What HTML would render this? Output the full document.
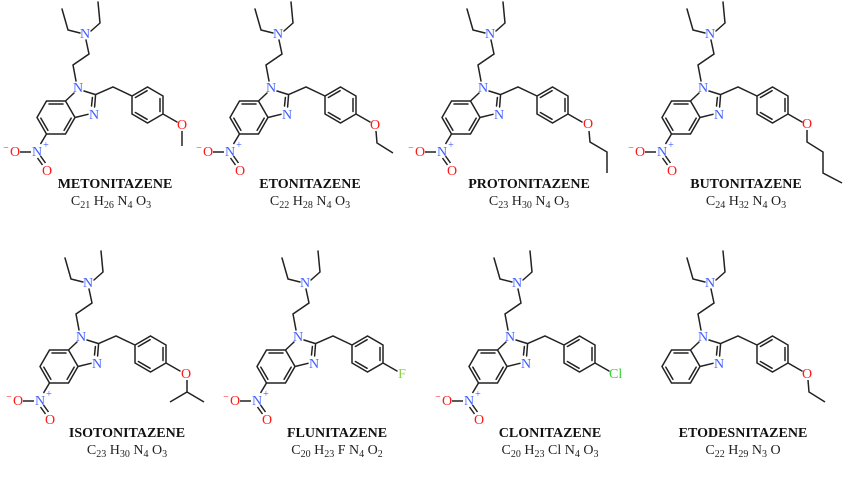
<!DOCTYPE html>
<html><head><meta charset="utf-8"><style>
html,body{margin:0;padding:0;background:#fff;}
svg{display:block;}
text{font-family:"Liberation Serif",serif;}
.n{fill:#3f5fff;font-size:14px;text-anchor:middle;}
.o{fill:#ff1a1a;font-size:14px;text-anchor:middle;}
.c{font-size:10px;}
.nm{font-size:14px;font-weight:bold;text-anchor:middle;fill:#111;}
.fm{font-size:14px;text-anchor:middle;fill:#222;}
</style></head><body>
<svg width="850" height="484" viewBox="0 0 850 484" xmlns="http://www.w3.org/2000/svg">
<defs>
<g id="core" stroke="#222" stroke-width="1.5" fill="none" stroke-linecap="round">
<path d="M62,9 L68,30 L80,33 M91,31 L100,23 L98,2 M86,40 L89,54 L73,65 L76,81 M74,93 L65.5,101 M84,91 L95.6,94.6 M95.6,94.6 L94.6,107 M92.4,97.5 L91.5,106 M88,114.3 L75,117.5 M65.5,101 L75,117.5 M65.5,101 L46.5,101 L37,117.5 L46.5,134 L65.5,134 L75,117.5 M49,104 L63,104 M47.85,130.3 L40.85,118.2 M71.15,118.2 L64.15,130.3 M95.6,94.6 L113,87 L132,96 M132,96 L147.5,87 L163,96 L163,114 L147.5,123 L132,114 Z M135.4,97.5 L147.1,90.7 M160,98.5 L160,111.5 M147.1,119.3 L135.4,112.5 M163,114 L177,122"/>
</g>
<g id="nitro" stroke="#222" stroke-width="1.5" fill="none">
<path d="M46.5,134 L40.5,144 M20,152 L31,152 M37.5,158 L42.5,165 M40.5,156 L45.5,163"/>
</g>
</defs>

<g transform="translate(0,0)">
<use href="#core"/><use href="#nitro"/>
<path d="M182,131 L182,146" stroke="#222" stroke-width="1.5" fill="none"/>
<text class="n" x="85" y="38">N</text><text class="n" x="78" y="92">N</text><text class="n" x="94" y="119">N</text>
<text class="n" x="37" y="156">N</text><text class="n c" x="46" y="148">+</text>
<text class="o" x="15" y="156">O</text><text class="o c" x="6" y="151">−</text><text class="o" x="47" y="175">O</text>
<text class="o" x="182" y="129">O</text>
</g>
<text class="nm" x="115" y="188">METONITAZENE</text>
<text class="fm" x="111" y="205">C<tspan font-size="10" dy="3">21</tspan><tspan dy="-3"> H</tspan><tspan font-size="10" dy="3">26</tspan><tspan dy="-3"> N</tspan><tspan font-size="10" dy="3">4</tspan><tspan dy="-3"> O</tspan><tspan font-size="10" dy="3">3</tspan></text>

<g transform="translate(193,0)">
<use href="#core"/><use href="#nitro"/>
<path d="M183,131 L184,143 L200,153" stroke="#222" stroke-width="1.5" fill="none"/>
<text class="n" x="85" y="38">N</text><text class="n" x="78" y="92">N</text><text class="n" x="94" y="119">N</text>
<text class="n" x="37" y="156">N</text><text class="n c" x="46" y="148">+</text>
<text class="o" x="15" y="156">O</text><text class="o c" x="6" y="151">−</text><text class="o" x="47" y="175">O</text>
<text class="o" x="182" y="129">O</text>
</g>
<text class="nm" x="310" y="188">ETONITAZENE</text>
<text class="fm" x="310" y="205">C<tspan font-size="10" dy="3">22</tspan><tspan dy="-3"> H</tspan><tspan font-size="10" dy="3">28</tspan><tspan dy="-3"> N</tspan><tspan font-size="10" dy="3">4</tspan><tspan dy="-3"> O</tspan><tspan font-size="10" dy="3">3</tspan></text>

<g transform="translate(405,0)">
<use href="#core"/><use href="#nitro"/>
<path d="M184,131 L185,142 L202,152 L202,173" stroke="#222" stroke-width="1.5" fill="none"/>
<text class="n" x="85" y="38">N</text><text class="n" x="78" y="92">N</text><text class="n" x="94" y="119">N</text>
<text class="n" x="37" y="156">N</text><text class="n c" x="46" y="148">+</text>
<text class="o" x="15" y="156">O</text><text class="o c" x="6" y="151">−</text><text class="o" x="47" y="175">O</text>
<text class="o" x="183" y="128">O</text>
</g>
<text class="nm" x="529" y="188">PROTONITAZENE</text>
<text class="fm" x="529" y="205">C<tspan font-size="10" dy="3">23</tspan><tspan dy="-3"> H</tspan><tspan font-size="10" dy="3">30</tspan><tspan dy="-3"> N</tspan><tspan font-size="10" dy="3">4</tspan><tspan dy="-3"> O</tspan><tspan font-size="10" dy="3">3</tspan></text>

<g transform="translate(625,0)">
<use href="#core"/><use href="#nitro"/>
<path d="M182,130 L182,142 L198,152 L198,173 L217,183" stroke="#222" stroke-width="1.5" fill="none"/>
<text class="n" x="85" y="38">N</text><text class="n" x="78" y="92">N</text><text class="n" x="94" y="119">N</text>
<text class="n" x="37" y="156">N</text><text class="n c" x="46" y="148">+</text>
<text class="o" x="15" y="156">O</text><text class="o c" x="6" y="151">−</text><text class="o" x="47" y="175">O</text>
<text class="o" x="182" y="128">O</text>
</g>
<text class="nm" x="746" y="188">BUTONITAZENE</text>
<text class="fm" x="746" y="205">C<tspan font-size="10" dy="3">24</tspan><tspan dy="-3"> H</tspan><tspan font-size="10" dy="3">32</tspan><tspan dy="-3"> N</tspan><tspan font-size="10" dy="3">4</tspan><tspan dy="-3"> O</tspan><tspan font-size="10" dy="3">3</tspan></text>

<g transform="translate(3,249)">
<use href="#core"/><use href="#nitro"/>
<path d="M184,131 L184,143 M167,153 L184,143 L201,153" stroke="#222" stroke-width="1.5" fill="none"/>
<text class="n" x="85" y="38">N</text><text class="n" x="78" y="92">N</text><text class="n" x="94" y="119">N</text>
<text class="n" x="37" y="156">N</text><text class="n c" x="46" y="148">+</text>
<text class="o" x="15" y="156">O</text><text class="o c" x="6" y="151">−</text><text class="o" x="47" y="175">O</text>
<text class="o" x="183" y="129">O</text>
</g>
<text class="nm" x="127" y="437">ISOTONITAZENE</text>
<text class="fm" x="127" y="454">C<tspan font-size="10" dy="3">23</tspan><tspan dy="-3"> H</tspan><tspan font-size="10" dy="3">30</tspan><tspan dy="-3"> N</tspan><tspan font-size="10" dy="3">4</tspan><tspan dy="-3"> O</tspan><tspan font-size="10" dy="3">3</tspan></text>

<g transform="translate(220,249)">
<use href="#core"/><use href="#nitro"/>
<text class="n" x="85" y="38">N</text><text class="n" x="78" y="92">N</text><text class="n" x="94" y="119">N</text>
<text class="n" x="37" y="156">N</text><text class="n c" x="46" y="148">+</text>
<text class="o" x="15" y="156">O</text><text class="o c" x="6" y="151">−</text><text class="o" x="47" y="175">O</text>
<text x="182" y="129" font-size="14" text-anchor="middle" fill="#8fd14f">F</text>
</g>
<text class="nm" x="337" y="437">FLUNITAZENE</text>
<text class="fm" x="337" y="454">C<tspan font-size="10" dy="3">20</tspan><tspan dy="-3"> H</tspan><tspan font-size="10" dy="3">23</tspan><tspan dy="-3"> F N</tspan><tspan font-size="10" dy="3">4</tspan><tspan dy="-3"> O</tspan><tspan font-size="10" dy="3">2</tspan></text>

<g transform="translate(432,249)">
<use href="#core"/><use href="#nitro"/>
<text class="n" x="85" y="38">N</text><text class="n" x="78" y="92">N</text><text class="n" x="94" y="119">N</text>
<text class="n" x="37" y="156">N</text><text class="n c" x="46" y="148">+</text>
<text class="o" x="15" y="156">O</text><text class="o c" x="6" y="151">−</text><text class="o" x="47" y="175">O</text>
<text x="177" y="129" font-size="14" fill="#2fd42f">Cl</text>
</g>
<text class="nm" x="550" y="437">CLONITAZENE</text>
<text class="fm" x="550" y="454">C<tspan font-size="10" dy="3">20</tspan><tspan dy="-3"> H</tspan><tspan font-size="10" dy="3">23</tspan><tspan dy="-3"> Cl N</tspan><tspan font-size="10" dy="3">4</tspan><tspan dy="-3"> O</tspan><tspan font-size="10" dy="3">3</tspan></text>

<g transform="translate(625,249)">
<use href="#core"/>
<path d="M183,131 L184,143 L200,153" stroke="#222" stroke-width="1.5" fill="none"/>
<text class="n" x="85" y="38">N</text><text class="n" x="78" y="92">N</text><text class="n" x="94" y="119">N</text>
<text class="o" x="182" y="129">O</text>
</g>
<text class="nm" x="743" y="437">ETODESNITAZENE</text>
<text class="fm" x="743" y="454">C<tspan font-size="10" dy="3">22</tspan><tspan dy="-3"> H</tspan><tspan font-size="10" dy="3">29</tspan><tspan dy="-3"> N</tspan><tspan font-size="10" dy="3">3</tspan><tspan dy="-3"> O</tspan></text>
</svg>
</body></html>
